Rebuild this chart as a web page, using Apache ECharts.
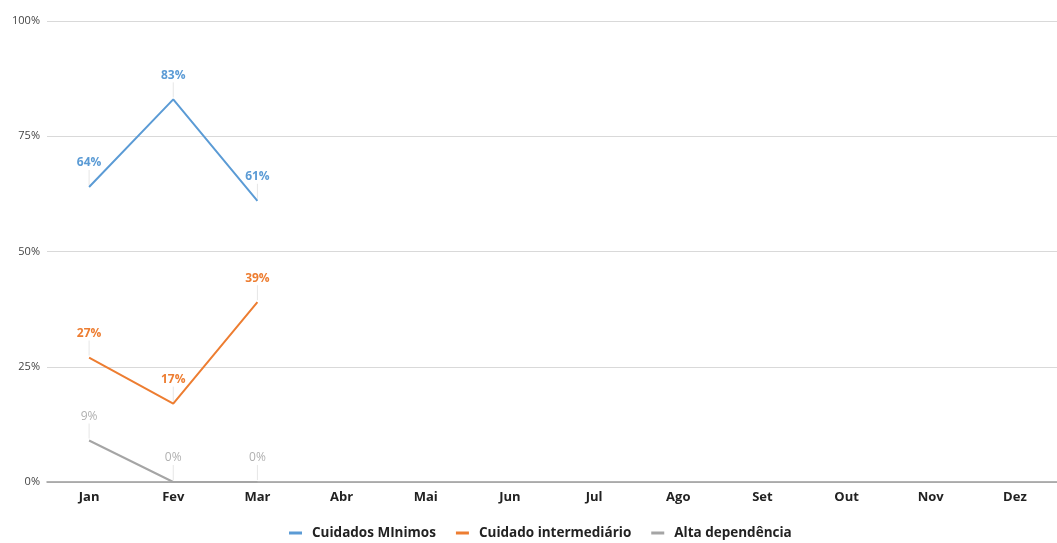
<!DOCTYPE html>
<html><head><meta charset="utf-8">
<script src="https://cdn.jsdelivr.net/npm/echarts@6/dist/echarts.min.js"></script>
<style>html,body{margin:0;padding:0;background:#fff}#c{width:1057px;height:543px}</style>
</head><body><div id="c"></div>
<script>
const months = ['Jan','Fev','Mar','Abr','Mai','Jun','Jul','Ago','Set','Out','Nov','Dez'];
const cuidadosMinimos = [64, 83, 61, null, null, null, null, null, null, null, null, null];
const cuidadoIntermediario = [27, 17, 39, null, null, null, null, null, null, null, null, null];
const altaDependencia = [9, 0, 0, null, null, null, null, null, null, null, null, null];
const yTicks = [0, 25, 50, 75, 100];

const FONT = '"Open Sans", "Noto Sans", sans-serif';
function mk(name, data, color, labelColor, bold) {
  return {
    name, type: 'line', data, showSymbol: true, symbol: 'circle', symbolSize: 0, z: 3,
    lineStyle: { color, width: 2 }, itemStyle: { color },
    label: { show: true, position: 'top', distance: 5, formatter: p => p.value + '%', color: labelColor,
      fontSize: 12, fontWeight: bold ? 'bold' : 'normal', fontFamily: FONT },
    labelLayout: { dy: -13 },
    emphasis: { disabled: true }, animation: false
  };
}
function leaders(data) {
  return {
    type: 'custom', data: data.map((v, i) => v == null ? null : [i, v]), z: 1, silent: true,
    renderItem: (params, api) => {
      if (api.value(1) == null || isNaN(api.value(1))) return;
      const p = api.coord([api.value(0), api.value(1)]);
      return { type: 'line', shape: { x1: p[0], y1: p[1] - 2, x2: p[0], y2: p[1] - 17 },
        style: { stroke: '#e6e6e6', lineWidth: 1 } };
    }
  };
}
const chart = echarts.init(document.getElementById('c'));
chart.setOption({
  animation: false,
  grid: { left: 47, right: -13, top: 21, bottom: 61 },
  legend: {
    left: 284, top: 521, icon: 'rect', itemWidth: 13, itemHeight: 3, itemGap: 20,
    data: ['Cuidados MInimos', 'Cuidado intermediário', 'Alta dependência'],
    textStyle: { fontSize: 13.5, fontWeight: 'bold', color: '#222', fontFamily: FONT, padding: [0, 0, 0, 5] }
  },
  xAxis: {
    type: 'category', data: months, boundaryGap: true,
    axisLine: { lineStyle: { color: '#9a9a9a', width: 1.5 } },
    axisTick: { show: false },
    axisLabel: { color: '#222', fontWeight: 'bold', fontSize: 13, fontFamily: FONT, margin: 9 }
  },
  yAxis: {
    type: 'value', min: yTicks[0], max: yTicks[yTicks.length - 1], interval: 25,
    axisLine: { show: false }, axisTick: { show: false },
    axisLabel: { formatter: v => v + '%', color: '#444', fontSize: 11, fontFamily: FONT, margin: 7 },
    splitLine: { lineStyle: { color: '#d9d9d9', width: 1 } }
  },
  series: [
    mk('Cuidados MInimos', cuidadosMinimos, '#5b9bd5', '#5b9bd5', true),
    mk('Cuidado intermediário', cuidadoIntermediario, '#ed7d31', '#ed7d31', true),
    mk('Alta dependência', altaDependencia, '#a5a5a5', '#b0b0b0', false),
    leaders(cuidadosMinimos), leaders(cuidadoIntermediario), leaders(altaDependencia)
  ]
});
</script></body></html>
